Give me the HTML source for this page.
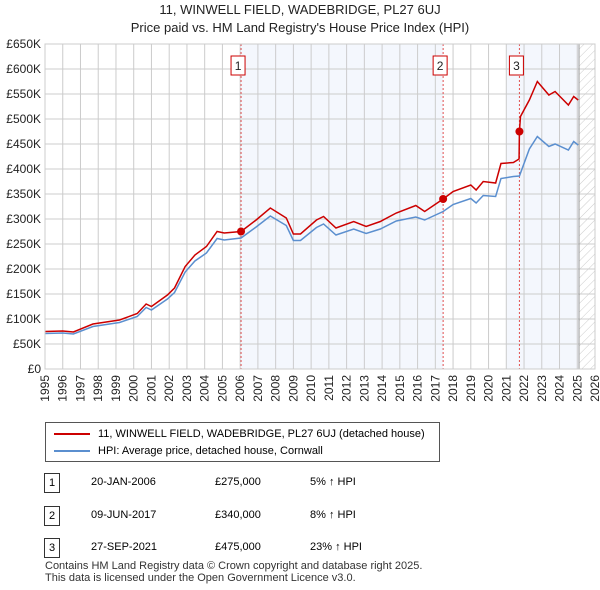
<!DOCTYPE html>
<html><head><meta charset="utf-8"><style>
body{margin:0;background:#fff;font-family:"Liberation Sans","DejaVu Sans",sans-serif;}
#wrap{position:relative;width:600px;height:590px;overflow:hidden;}
.t{position:absolute;font-size:12px;color:#222;white-space:nowrap;}
</style></head><body>
<div id="wrap">
<div class="t" style="top:1px;left:0;width:600px;text-align:center;font-size:13px;line-height:18px">11, WINWELL FIELD, WADEBRIDGE, PL27 6UJ<br>Price paid vs. HM Land Registry's House Price Index (HPI)</div>
<svg id="chart" width="600" height="410" style="position:absolute;left:0;top:0" font-family="Liberation Sans, sans-serif" font-size="12"></svg>
<div style="position:absolute;left:45px;top:422px;width:395px;height:40px;border:1px solid #555;box-sizing:border-box">
 <div style="position:absolute;left:8px;top:5px;font-size:11px;white-space:nowrap"><span style="display:inline-block;width:36px;height:2px;background:#cc0000;vertical-align:middle;margin-right:8px"></span>11, WINWELL FIELD, WADEBRIDGE, PL27 6UJ (detached house)</div>
 <div style="position:absolute;left:8px;top:22px;font-size:11px;white-space:nowrap"><span style="display:inline-block;width:36px;height:2px;background:#5b8fcf;vertical-align:middle;margin-right:8px"></span>HPI: Average price, detached house, Cornwall</div>
</div>
<div id="tbl"></div>
<div class="t" style="left:45px;top:560px;font-size:11px;line-height:12px;color:#333">Contains HM Land Registry data © Crown copyright and database right 2025.<br>This data is licensed under the Open Government Licence v3.0.</div>
</div>
<script>
const redYears=[1995,1996,1996.6,1997.7,1999.2,2000.2,2000.7,2001.0,2001.9,2002.3,2002.9,2003.45,2004.1,2004.7,2005.1,2006.05,2006.9,2007.7,2008.6,2009.0,2009.4,2010.3,2010.7,2011.4,2012.4,2013.1,2013.9,2014.8,2015.9,2016.4,2017.44,2018.0,2019.0,2019.3,2019.7,2020.4,2020.7,2021.4,2021.72,2021.74,2021.8,2022.3,2022.75,2023.4,2023.75,2024.5,2024.8,2025.05];
const redVals=[75,76,74,90,98,111,130,125,148,162,205,228,245,275,272,275,298,322,302,270,270,298,305,282,295,285,295,312,327,315,340,355,368,358,375,372,411,413,420,475,505,538,575,548,555,528,545,538];
const hpiYears=[1995,1996,1996.6,1997.7,1999.2,2000.2,2000.7,2001.0,2001.9,2002.3,2002.9,2003.45,2004.1,2004.7,2005.1,2006.05,2006.9,2007.7,2008.6,2009.0,2009.4,2010.3,2010.7,2011.4,2012.4,2013.1,2013.9,2014.8,2015.9,2016.4,2017.44,2018.0,2019.0,2019.3,2019.7,2020.4,2020.7,2021.4,2021.74,2022.3,2022.75,2023.4,2023.75,2024.5,2024.8,2025.05];
const hpiVals=[71,72,70,85,93,105,123,118,140,153,194,216,232,261,258,262,284,306,287,257,257,283,290,268,280,271,280,296,304,298,315,329,341,332,347,345,381,385,386,440,465,445,450,438,455,448];
const saleYears=[2006.05,2017.44,2021.74];
const saleVals=[275,340,475];
const saleLabels=["1","2","3"];
const saleDates=["20-JAN-2006","09-JUN-2017","27-SEP-2021"];
const salePrices=["£275,000","£340,000","£475,000"];
const saleHpi=["5% ↑ HPI","8% ↑ HPI","23% ↑ HPI"];
const yTicks=[0,50,100,150,200,250,300,350,400,450,500,550,600,650];
const yTickLabels=["£0","£50K","£100K","£150K","£200K","£250K","£300K","£350K","£400K","£450K","£500K","£550K","£600K","£650K"];
const xTicks=[1995,1996,1997,1998,1999,2000,2001,2002,2003,2004,2005,2006,2007,2008,2009,2010,2011,2012,2013,2014,2015,2016,2017,2018,2019,2020,2021,2022,2023,2024,2025,2026];

const L=45,R=595,T=44,B=369;
const X=y=>L+(y-1995)*(R-L)/31;
const Y=v=>B-(v/650)*(B-T);
const svg=document.getElementById('chart');
const NS='http://www.w3.org/2000/svg';
function mk(tag,attrs,parent){const e=document.createElementNS(NS,tag);for(const k in attrs)e.setAttribute(k,attrs[k]);(parent||svg).appendChild(e);return e;}
const defs=mk('defs',{});
const pat=mk('pattern',{id:'hatch',width:6,height:6,patternUnits:'userSpaceOnUse',patternTransform:'rotate(45)'},defs);
mk('line',{x1:0,y1:0,x2:0,y2:6,stroke:'#ccc','stroke-width':1},pat);
let s=mk('rect',{x:X(saleYears[0]),y:T,width:X(saleYears[1])-X(saleYears[0]),height:B-T,fill:'#f4f7fd'});

s=mk('rect',{x:X(2021.0),y:T,width:X(2025.1)-X(2021.0),height:B-T,fill:'#f4f7fd'});

s=mk('rect',{x:X(2025.1),y:T,width:R-X(2025.1),height:B-T,fill:'url(#hatch)'});

yTicks.forEach((v,i)=>{
 const g=mk('line',{x1:L,x2:R,y1:Y(v),y2:Y(v),stroke:'#cccccc','stroke-width':1});
 
 const t=mk('text',{x:L-4,y:Y(v)+4,'text-anchor':'end',fill:'#222'});t.textContent=yTickLabels[i];
 
});
xTicks.forEach(yr=>{
 const g=mk('line',{x1:X(yr),x2:X(yr),y1:T,y2:B,stroke:'#cccccc','stroke-width':1});
 
 const px=X(yr)+4,py=B+6;
 const t=mk('text',{x:px,y:py,'text-anchor':'end',fill:'#222',transform:'rotate(-90 '+px+' '+py+')'});t.textContent=yr;
 
});
const ln=mk('line',{x1:X(2025.1),x2:X(2025.1),y1:T,y2:B,stroke:'#999','stroke-width':1});

saleYears.forEach((yr,i)=>{
 const d=mk('line',{x1:X(yr),x2:X(yr),y1:T,y2:B,stroke:'#e05050','stroke-width':1,'stroke-dasharray':'2,2'});
 
 const b=mk('rect',{x:X(yr)-10,y:56,width:14,height:19,fill:'#fff',stroke:'#cc0000'});
 
 const t=mk('text',{x:X(yr)-3,y:70,'text-anchor':'middle',fill:'#222'});t.textContent=saleLabels[i];
 
});
const hp=mk('polyline',{points:hpiYears.map((y,i)=>X(y)+','+Y(hpiVals[i])).join(' '),fill:'none',stroke:'#5b8fcf','stroke-width':1.5});

const rp=mk('polyline',{points:redYears.map((y,i)=>X(y)+','+Y(redVals[i])).join(' '),fill:'none',stroke:'#cc0000','stroke-width':1.5});

saleYears.forEach((yr,i)=>{
 const c=mk('circle',{cx:X(yr),cy:Y(saleVals[i]),r:4,fill:'#cc0000'});
 
});
const fr=mk('rect',{x:L,y:T,width:R-L,height:B-T,fill:'none',stroke:'#cccccc'});

const tbl=document.getElementById('tbl');
saleYears.forEach((yr,i)=>{
 const top=473+i*32.5;
 const row=document.createElement('div');
 
 
 row.style.cssText='position:absolute;left:0;top:'+top+'px;width:600px;height:20px;font-size:11px';
 row.innerHTML='<span style="position:absolute;left:44px;top:0;width:14px;height:18px;border:1px solid #333;text-align:center;line-height:18px">'+saleLabels[i]+'</span><span style="position:absolute;left:91px;top:3px">'+saleDates[i]+'</span><span style="position:absolute;left:215px;top:3px">'+salePrices[i]+'</span><span style="position:absolute;left:310px;top:3px">'+saleHpi[i]+'</span>';
 tbl.appendChild(row);
});
</script>
</body></html>
